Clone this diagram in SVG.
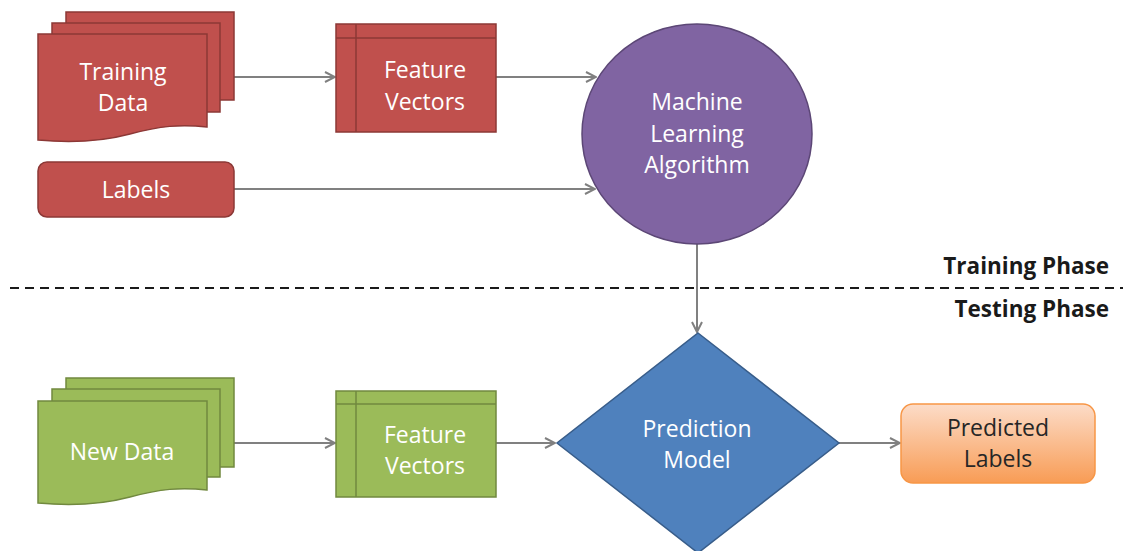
<svg xmlns="http://www.w3.org/2000/svg" width="1123" height="551" viewBox="0 0 1123 551">
<defs>
<style>
.red{fill:#C0504D;stroke:#8C3836;stroke-width:1.5}
.green{fill:#9BBB59;stroke:#71893F;stroke-width:1.5}
.lbl{font-family:"Open Sans","Liberation Sans",sans-serif;font-size:23px;fill:#FFFFFF;text-anchor:middle}
.dark{fill:#262626}
.phase{font-family:"Open Sans","Liberation Sans",sans-serif;font-size:22.5px;font-weight:bold;fill:#1A1A1A;text-anchor:end}
.conn{stroke:#808080;stroke-width:2;fill:none;marker-end:url(#arr)}
</style>
<marker id="arr" viewBox="0 0 12 12" refX="11" refY="6" markerWidth="12" markerHeight="12" markerUnits="userSpaceOnUse" orient="auto">
<path d="M1,1 L11,6 L1,11" fill="none" stroke="#808080" stroke-width="2"/>
</marker>
<linearGradient id="og" x1="0" y1="0" x2="0" y2="1">
<stop offset="0" stop-color="#FCDCC8"/>
<stop offset="1" stop-color="#F89C55"/>
</linearGradient>
</defs>

<g id="connectors">
<line class="conn" x1="234" y1="77" x2="335" y2="77"/>
<line class="conn" x1="496" y1="77" x2="596" y2="77"/>
<line class="conn" x1="234" y1="189" x2="595" y2="189"/>
<line class="conn" x1="697" y1="244" x2="697" y2="332"/>
<line class="conn" x1="234" y1="443" x2="335" y2="443"/>
<line class="conn" x1="496" y1="443" x2="555" y2="443"/>
<line class="conn" x1="839" y1="443" x2="900" y2="443"/>
</g>

<g id="phase-divider">
<line x1="10" y1="288" x2="1123" y2="288" stroke="#1A1A1A" stroke-width="2" stroke-dasharray="9,6"/>
<text class="phase" x="1109" y="274">Training Phase</text>
<text class="phase" x="1109" y="317">Testing Phase</text>
</g>

<g id="training-data">
<path class="red" d="M66,12 H234 V100 H66 Z"/>
<path class="red" d="M52,23 H220 V112 H52 Z"/>
<path class="red" d="M38,34 H207 V127 C180,124 160,126 130,134 C100,142 70,143 38,140 Z"/>
<text class="lbl" x="123" y="80">Training</text>
<text class="lbl" x="123" y="111">Data</text>
</g>

<g id="feature-vectors-train">
<rect class="red" x="336" y="24" width="160" height="108"/>
<line x1="356" y1="24" x2="356" y2="132" stroke="#8C3836" stroke-width="1.5"/>
<line x1="336" y1="38" x2="496" y2="38" stroke="#8C3836" stroke-width="1.5"/>
<text class="lbl" x="425" y="78">Feature</text>
<text class="lbl" x="425" y="110">Vectors</text>
</g>

<g id="labels">
<rect class="red" x="38" y="162" width="196" height="55" rx="9"/>
<text class="lbl" x="136" y="198">Labels</text>
</g>

<g id="ml-algorithm">
<ellipse cx="697" cy="134" rx="115" ry="110" fill="#8064A2" stroke="#5C4776" stroke-width="1.5"/>
<text class="lbl" x="697" y="110">Machine</text>
<text class="lbl" x="697" y="142">Learning</text>
<text class="lbl" x="697" y="173">Algorithm</text>
</g>

<g id="new-data">
<path class="green" d="M66,378 H234 V467 H66 Z"/>
<path class="green" d="M52,389 H220 V477 H52 Z"/>
<path class="green" d="M38,401 H207 V490 C180,487 160,489 130,497 C100,505 70,506 38,503 Z"/>
<text class="lbl" x="122" y="460">New Data</text>
</g>

<g id="feature-vectors-test">
<rect class="green" x="336" y="391" width="160" height="106"/>
<line x1="356" y1="391" x2="356" y2="497" stroke="#71893F" stroke-width="1.5"/>
<line x1="336" y1="404" x2="496" y2="404" stroke="#71893F" stroke-width="1.5"/>
<text class="lbl" x="425" y="443">Feature</text>
<text class="lbl" x="425" y="474">Vectors</text>
</g>

<g id="prediction-model">
<polygon points="698,333 839,443 698,553 557,443" fill="#4F81BD" stroke="#385D8A" stroke-width="1.5"/>
<text class="lbl" x="697" y="437">Prediction</text>
<text class="lbl" x="697" y="468">Model</text>
</g>

<g id="predicted-labels">
<rect x="901" y="404" width="194" height="79" rx="12" fill="url(#og)" stroke="#F79646" stroke-width="1.5"/>
<text class="lbl dark" x="998" y="436">Predicted</text>
<text class="lbl dark" x="998" y="467">Labels</text>
</g>
</svg>
